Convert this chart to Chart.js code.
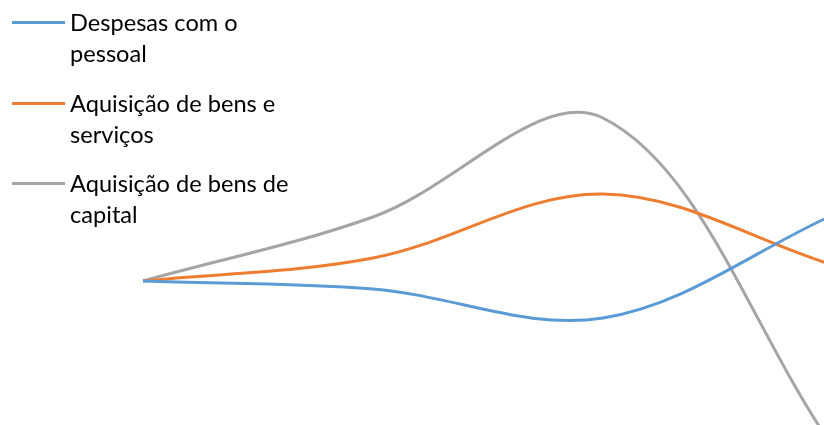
<!DOCTYPE html>
<html>
<head>
<meta charset="utf-8">
<script src="https://cdn.jsdelivr.net/npm/chart.js@4.4.1/dist/chart.umd.min.js"></script>
<style>
  html, body { margin: 0; padding: 0; background: #ffffff; width: 824px; height: 425px; overflow: hidden; }
  #wrap { position: relative; width: 824px; height: 425px; overflow: hidden; }
  #c { position: absolute; left: 0; top: 0; }
  #legend { position: absolute; left: 0; top: 0; font-family: Lato, "Liberation Sans", sans-serif; font-size: 23.6px; color: #000; }
  .item { position: absolute; left: 0; }
  .swatch { position: absolute; left: 12px; width: 53px; height: 3px; }
  .txt { position: absolute; left: 70px; white-space: nowrap; line-height: 31px; }
</style>
</head>
<body>
<div id="wrap">
  <canvas id="c" width="1000" height="700"></canvas>
  <div id="legend"></div>
</div>
<script>
// ---- data ----
const categories = ["1", "2", "3", "4"];
const seriesNames = [
  ["Despesas com o", "pessoal"],
  ["Aquisição de bens e", "serviços"],
  ["Aquisição de bens de", "capital"]
];
const despesasPessoal = [0, -4, -18.5, 33];
const bensServicos = [0, 11.5, 43.5, 8];
const bensCapital = [0, 32, 81.5, -83];
const seriesColors = ["#5B9BD5", "#ED7D31", "#A5A5A5"];

const seriesValues = [despesasPessoal, bensServicos, bensCapital];

const chart = new Chart(document.getElementById('c'), {
  type: 'line',
  data: {
    labels: categories,
    datasets: seriesValues.map((vals, i) => ({
      label: seriesNames[i].join(' '),
      data: vals,
      borderColor: seriesColors[i],
      backgroundColor: seriesColors[i],
      borderWidth: 3,
      pointRadius: 0,
      tension: 0.35,
      fill: false,
      clip: false
    }))
  },
  options: {
    responsive: false,
    animation: false,
    layout: { padding: { left: 143, right: 167, top: 0, bottom: 0 } },
    plugins: { legend: { display: false }, tooltip: { enabled: false } },
    scales: {
      x: { display: false, offset: false },
      y: { display: false, min: -209.5, max: 140.5 }
    }
  }
});

// HTML legend built from series names/colours
const legend = document.getElementById('legend');
const groupTops = [22, 103, 183];
seriesNames.forEach((lines, i) => {
  const item = document.createElement('div');
  item.className = 'item';
  item.style.top = groupTops[i] + 'px';
  const sw = document.createElement('div');
  sw.className = 'swatch';
  sw.style.background = seriesColors[i];
  sw.style.top = '-1.5px';
  const t = document.createElement('div');
  t.className = 'txt';
  t.style.top = '-15px';
  t.innerHTML = lines.join('<br>');
  item.appendChild(sw);
  item.appendChild(t);
  legend.appendChild(item);
});
</script>
</body>
</html>
